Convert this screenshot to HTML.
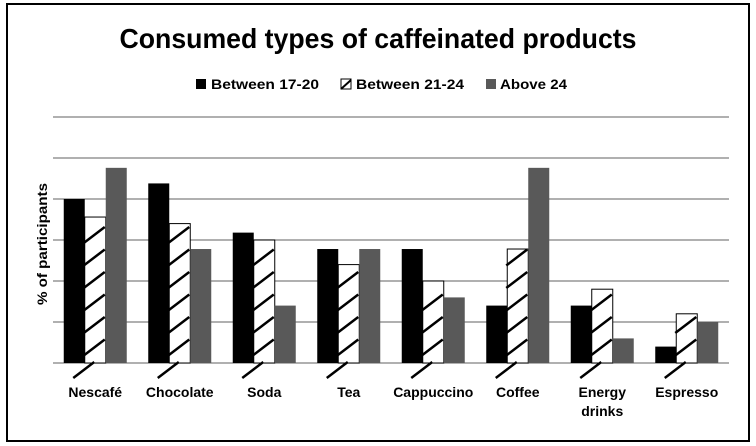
<!DOCTYPE html>
<html><head><meta charset="utf-8"><style>
body{margin:0;background:#fff;}
svg{display:block;font-family:"Liberation Sans",Arial,sans-serif;}
</style></head><body>
<svg id="chart" width="756" height="446" xmlns="http://www.w3.org/2000/svg">
<rect x="7" y="4" width="742" height="437" fill="#fff" stroke="#000" stroke-width="2"/>
<text x="378" y="48" text-anchor="middle" font-size="28" font-weight="bold" textLength="517" lengthAdjust="spacingAndGlyphs">Consumed types of caffeinated products</text>
<g>
<g><rect x="196" y="79" width="10" height="10" fill="#000"/><text x="211" y="89" font-size="14" font-weight="bold" textLength="108" lengthAdjust="spacingAndGlyphs">Between 17-20</text></g>
<g><rect x="341" y="79" width="10" height="10" fill="#fff" stroke="#000"/><line x1="341" y1="89" x2="351" y2="80" stroke="#000" stroke-width="2"/><text x="356" y="89" font-size="14" font-weight="bold" textLength="108" lengthAdjust="spacingAndGlyphs">Between 21-24</text></g>
<g><rect x="486" y="79" width="10" height="10" fill="#595959"/><text x="500" y="89" font-size="14" font-weight="bold" textLength="67" lengthAdjust="spacingAndGlyphs">Above 24</text></g>
</g>
<text transform="translate(47,244) rotate(-90)" text-anchor="middle" font-size="14" font-weight="bold" textLength="122" lengthAdjust="spacingAndGlyphs">% of participants</text>
<g id="grid"></g><g id="bars"></g><g id="labels"></g>
</svg>
<script>
const categories = ["Nescafé","Chocolate","Soda","Tea","Cappuccino","Coffee","Energy drinks","Espresso"];
const series1720 = [20, 21.9, 15.9, 13.9, 13.9, 7, 7, 2];
const series2124 = [17.8, 17, 15, 12, 10, 13.9, 9, 6];
const seriesAbove24 = [23.8, 13.9, 7, 13.9, 8, 23.8, 3, 5];
const yTicks = [0,5,10,15,20,25,30];

const NS="http://www.w3.org/2000/svg";
const left=53,right=729,base=363,pxPerUnit=41/5;
const gw=(right-left)/categories.length, bw=21;
function yScale(v){return base - v*pxPerUnit;}
function xGroup(i){return left + gw*i + gw/2;}
function mk(tag,attrs,parent){const e=document.createElementNS(NS,tag);for(const k in attrs)e.setAttribute(k,attrs[k]);parent.appendChild(e);return e;}
const grid=document.getElementById('grid'),bars=document.getElementById('bars'),labels=document.getElementById('labels');
yTicks.forEach(t=>{
  const l=mk('line',{x1:left,x2:right,y1:yScale(t),y2:yScale(t),stroke:'#808080','stroke-width':1.3},grid);
  
  
});
categories.forEach((c,i)=>{
  const cx=xGroup(i), x0=cx-1.5*bw;
  let y=yScale(series1720[i]);
  const b1=mk('rect',{x:x0,y:y,width:bw,height:base-y,fill:'#000'},bars);
  
  
  y=yScale(series2124[i]);
  const g=mk('g',{},bars);
  
  
  mk('rect',{x:x0+bw,y:y,width:bw,height:base-y,fill:'#fff',stroke:'#000','stroke-width':1},g);
  const top=y;
  for(let yy=base+15; yy-16>top; yy-=22.5){
    let y1=yy, y2=yy-16, x1=x0+bw-1, x2=x0+2*bw-1;
    if(y2<top) continue;
    mk('line',{x1:x1-(yy>base?bw*0.5:0),y1:y1,x2:x2-(yy>base?bw*0.5:0),y2:y2,stroke:'#000','stroke-width':2.5},g);
  }
  y=yScale(seriesAbove24[i]);
  const b3=mk('rect',{x:x0+2*bw,y:y,width:bw,height:base-y,fill:'#595959'},bars);
  
  
  const parts=c.split(' ');
  parts.forEach((p,k)=>{
    const t=mk('text',{x:cx,y:397+k*19,'text-anchor':'middle','font-size':14,'font-weight':'bold'},labels);
    t.textContent=p;
    
    
  });
});
</script>
</body></html>
